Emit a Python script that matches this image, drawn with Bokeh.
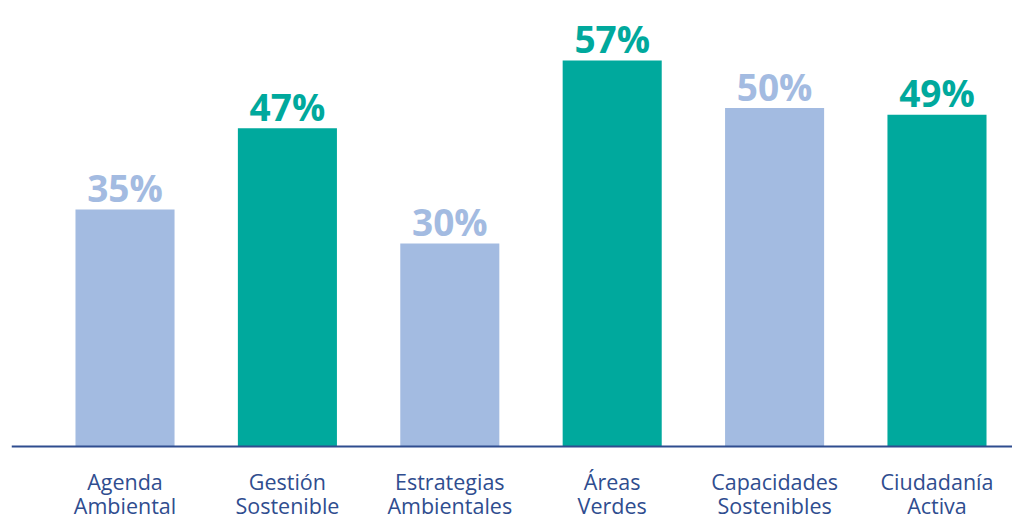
from bokeh.plotting import figure
from bokeh.models import Range1d, ColumnDataSource, Span
from bokeh.core.properties import value
from bokeh.embed import file_html
from bokeh.resources import INLINE

categories = ["Agenda\nAmbiental", "Gestión\nSostenible", "Estrategias\nAmbientales",
              "Áreas\nVerdes", "Capacidades\nSostenibles", "Ciudadanía\nActiva"]
values = [35, 47, 30, 57, 50, 49]
colors = ["#a3bbe1", "#00a99d", "#a3bbe1", "#00a99d", "#a3bbe1", "#00a99d"]

AXIS_COLOR = "#2f4d8f"

src = ColumnDataSource(dict(
    x=list(range(len(categories))),
    top=values,
    color=colors,
    cat=categories,
    label=[f"{v}%" for v in values],
    zero=[0] * len(values),
))

p = figure(width=1012, height=515, output_backend="svg", toolbar_location=None,
           x_range=Range1d(-0.699, 5.465), y_range=Range1d(-10.19, 65.88),
           min_border_left=11, min_border_right=0, min_border_top=0, min_border_bottom=0,
           background_fill_color="white", border_fill_color="white")
p.axis.visible = False
p.grid.visible = False
p.outline_line_color = None

p.vbar(x="x", top="top", bottom=0, width=0.61, fill_color="color", line_color=None, source=src)

p.add_layout(Span(location=0, dimension="width", line_color=AXIS_COLOR, line_width=2))

p.text(x="x", y="top", text="label", source=src, text_color="color",
       text_font=value("Open Sans"), text_font_style="bold", text_font_size="37px",
       text_align="center", text_baseline="alphabetic", y_offset=-22)

p.text(x="x", y="zero", text="cat", source=src, text_color=AXIS_COLOR,
       text_font=value("Open Sans"), text_font_size="21.5px",
       text_align="center", text_baseline="top", y_offset=20, text_line_height=0.85)

open("out.html", "w").write(file_html(p, INLINE))
